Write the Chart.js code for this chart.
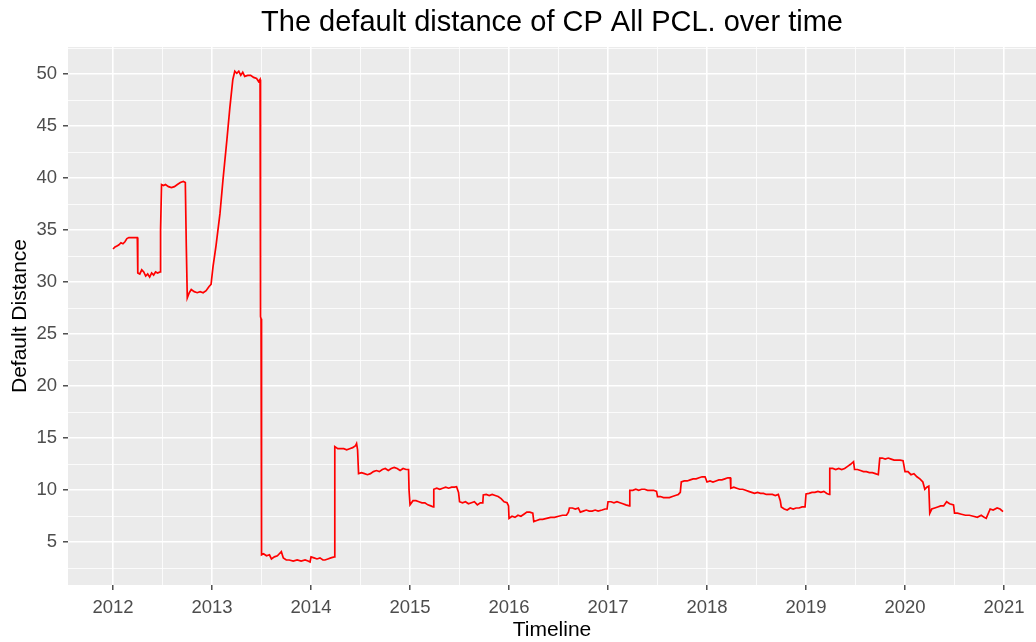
<!DOCTYPE html>
<html>
<head>
<meta charset="utf-8">
<title>The default distance of CP All PCL. over time</title>
<script src="https://cdn.jsdelivr.net/npm/chart.js@4.4.0/dist/chart.umd.min.js"></script>
<style>
  html, body { margin: 0; padding: 0; background: #fff; }
  canvas { display: block; }
</style>
</head>
<body>
<canvas id="chart" width="1036" height="642"></canvas>
<script>
// decimal years
const timeline = [
  2012.00, 2012.02, 2012.04, 2012.06, 2012.08, 2012.10, 2012.12, 2012.14, 2012.16, 2012.20, 2012.245,
  2012.25, 2012.27, 2012.29, 2012.31, 2012.33, 2012.35, 2012.37, 2012.39, 2012.41, 2012.43, 2012.45, 2012.475,
  2012.48, 2012.49, 2012.51, 2012.53, 2012.56, 2012.59, 2012.62, 2012.65, 2012.68, 2012.71, 2012.73,
  2012.74, 2012.75, 2012.77, 2012.79, 2012.82, 2012.85, 2012.88, 2012.91, 2012.94, 2012.97, 2012.99,
  2013.01, 2013.04, 2013.08, 2013.11, 2013.15, 2013.18, 2013.21, 2013.23, 2013.25, 2013.27,
  2013.29, 2013.31, 2013.33, 2013.36, 2013.39, 2013.42, 2013.45, 2013.47, 2013.485,
  2013.49, 2013.495, 2013.50, 2013.52, 2013.55, 2013.58, 2013.60, 2013.63, 2013.66, 2013.68, 2013.70, 2013.72,
  2013.75, 2013.78, 2013.82, 2013.86, 2013.90, 2013.94, 2013.97, 2013.99,
  2014.00, 2014.03, 2014.06, 2014.09, 2014.12, 2014.14, 2014.17, 2014.20, 2014.235,
  2014.24, 2014.27, 2014.30, 2014.33, 2014.36, 2014.39, 2014.42, 2014.45, 2014.46, 2014.47,
  2014.48, 2014.51, 2014.54, 2014.57, 2014.60, 2014.63, 2014.66, 2014.69, 2014.72, 2014.75,
  2014.78, 2014.81, 2014.84, 2014.87, 2014.90, 2014.93, 2014.96, 2014.985,
  2014.99, 2015.00, 2015.03, 2015.06, 2015.09, 2015.12, 2015.15, 2015.18, 2015.21, 2015.235,
  2015.24, 2015.27, 2015.30, 2015.33, 2015.36, 2015.39, 2015.42, 2015.45, 2015.47, 2015.49,
  2015.50, 2015.53, 2015.56, 2015.59, 2015.62, 2015.65, 2015.68, 2015.71, 2015.735,
  2015.74, 2015.77, 2015.80, 2015.83, 2015.86, 2015.89, 2015.92, 2015.95, 2015.98, 2015.995,
  2016.00, 2016.03, 2016.06, 2016.09, 2016.12, 2016.15, 2016.18, 2016.21, 2016.24,
  2016.25, 2016.28, 2016.31, 2016.34, 2016.38, 2016.42, 2016.46, 2016.50, 2016.54, 2016.58, 2016.60,
  2016.61, 2016.64, 2016.67, 2016.70, 2016.72, 2016.75, 2016.78, 2016.81, 2016.84, 2016.87, 2016.90, 2016.94, 2016.97, 2016.99,
  2017.00, 2017.03, 2017.06, 2017.09, 2017.12, 2017.15, 2017.18, 2017.215,
  2017.22, 2017.25, 2017.28, 2017.31, 2017.34, 2017.37, 2017.40, 2017.43, 2017.46, 2017.49,
  2017.50, 2017.53, 2017.56, 2017.59, 2017.62, 2017.65, 2017.68, 2017.71, 2017.73,
  2017.74, 2017.77, 2017.80, 2017.83, 2017.86, 2017.89, 2017.92, 2017.95, 2017.98,
  2018.00, 2018.03, 2018.06, 2018.09, 2018.12, 2018.15, 2018.18, 2018.21, 2018.235,
  2018.24, 2018.27, 2018.30, 2018.33, 2018.36, 2018.39, 2018.42, 2018.45, 2018.48,
  2018.51, 2018.54, 2018.57, 2018.60, 2018.63, 2018.66, 2018.69, 2018.72, 2018.74,
  2018.75, 2018.78, 2018.81, 2018.84, 2018.87, 2018.90, 2018.93, 2018.96, 2018.99,
  2019.00, 2019.03, 2019.06, 2019.09, 2019.12, 2019.15, 2019.18, 2019.21, 2019.235,
  2019.24, 2019.27, 2019.30, 2019.33, 2019.36, 2019.39, 2019.42, 2019.45, 2019.48,
  2019.49, 2019.52, 2019.55, 2019.58, 2019.61, 2019.64, 2019.67, 2019.70, 2019.73,
  2019.745, 2019.77, 2019.80, 2019.83, 2019.86, 2019.89, 2019.92, 2019.95, 2019.98,
  2020.00, 2020.03, 2020.06, 2020.09, 2020.12, 2020.15, 2020.18, 2020.20, 2020.22, 2020.24,
  2020.25, 2020.27, 2020.30, 2020.33, 2020.36, 2020.39, 2020.42, 2020.45, 2020.49,
  2020.50, 2020.53, 2020.57, 2020.61, 2020.65, 2020.69, 2020.73, 2020.77, 2020.80, 2020.82,
  2020.86, 2020.89, 2020.93, 2020.96, 2020.99
];

const defaultDistance = [
  33.2, 33.4, 33.5, 33.6, 33.8, 33.7, 33.9, 34.2, 34.3, 34.3, 34.3,
  30.9, 30.8, 31.2, 31.0, 30.6, 30.8, 30.5, 30.9, 30.7, 31.0, 30.9, 31.0,
  35.0, 39.4, 39.3, 39.4, 39.2, 39.1, 39.2, 39.4, 39.6, 39.7, 39.6,
  33.5, 28.5, 29.0, 29.3, 29.1, 29.0, 29.1, 29.0, 29.2, 29.6, 29.8,
  31.5, 33.5, 36.6, 39.8, 43.7, 46.8, 49.5, 50.3, 50.1, 50.3,
  49.9, 50.2, 49.8, 49.9, 49.9, 49.7, 49.6, 49.3, 49.5,
  26.7, 26.5, 3.8, 3.9, 3.7, 3.8, 3.4, 3.6, 3.7, 3.9, 4.1, 3.5,
  3.3, 3.3, 3.2, 3.3, 3.2, 3.3, 3.2, 3.1,
  3.6, 3.5, 3.4, 3.5, 3.3, 3.3, 3.4, 3.5, 3.6,
  14.2, 14.0, 14.0, 14.0, 13.9, 14.0, 14.1, 14.3, 14.5, 13.9,
  11.6, 11.7, 11.6, 11.5, 11.6, 11.8, 11.9, 11.8, 12.0, 12.1,
  11.9, 12.1, 12.2, 12.1, 11.9, 12.1, 12.0, 12.0,
  10.0, 8.6, 9.0, 9.0, 8.9, 8.8, 8.8, 8.6, 8.5, 8.4,
  10.1, 10.2, 10.1, 10.2, 10.3, 10.2, 10.3, 10.3, 10.35, 9.8,
  8.9, 8.8, 8.9, 8.7, 8.8, 8.9, 8.6, 8.8, 8.8,
  9.55, 9.6, 9.5, 9.6, 9.5, 9.4, 9.2, 8.9, 8.8, 8.5,
  7.3, 7.5, 7.4, 7.6, 7.5, 7.7, 7.9, 7.9, 7.8,
  7.0, 7.1, 7.2, 7.2, 7.3, 7.4, 7.4, 7.5, 7.6, 7.6, 7.9,
  8.3, 8.3, 8.2, 8.3, 7.9, 8.0, 8.1, 8.0, 8.0, 8.1, 8.0, 8.1, 8.2, 8.2,
  8.9, 8.9, 8.8, 8.9, 8.8, 8.7, 8.6, 8.5,
  10.0, 10.0, 10.1, 10.0, 10.1, 10.1, 10.0, 10.0, 10.0, 9.9,
  9.4, 9.4, 9.3, 9.3, 9.3, 9.4, 9.5, 9.6, 9.8,
  10.8, 10.9, 10.9, 11.0, 11.1, 11.1, 11.2, 11.3, 11.3,
  10.8, 10.9, 10.8, 10.9, 11.0, 11.0, 11.1, 11.2, 11.2,
  10.2, 10.3, 10.2, 10.1, 10.1, 10.0, 9.9, 9.8, 9.7,
  9.8, 9.7, 9.7, 9.6, 9.6, 9.6, 9.5, 9.6, 9.0,
  8.4, 8.2, 8.1, 8.3, 8.2, 8.3, 8.3, 8.4, 8.4,
  9.65, 9.7, 9.8, 9.8, 9.9, 9.8, 9.9, 9.7, 9.6,
  12.1, 12.1, 12.0, 12.1, 12.0, 12.1, 12.3, 12.5, 12.75,
  12.0, 12.0, 11.9, 11.8, 11.8, 11.7, 11.7, 11.6, 11.5,
  13.1, 13.1, 13.0, 13.1, 13.0, 12.9, 12.9, 12.9, 12.85,
  11.8, 11.8, 11.5, 11.6, 11.3, 11.1, 10.8, 10.1, 10.3, 10.4,
  7.8, 8.2, 8.3, 8.4, 8.5, 8.5, 8.9, 8.7, 8.6,
  7.8, 7.8, 7.7, 7.6, 7.6, 7.5, 7.4, 7.6, 7.4, 7.3,
  8.2, 8.1, 8.3, 8.2, 7.95
];

const yearTicks = [2012, 2013, 2014, 2015, 2016, 2017, 2018, 2019, 2020, 2021];
const distanceTicks = [5, 10, 15, 20, 25, 30, 35, 40, 45, 50];

if (timeline.length !== defaultDistance.length) {
  console.warn('length mismatch', timeline.length, defaultDistance.length);
}

const X_MIN = 2011.545, X_MAX = 2021.323;
const Y_MIN = 0.894, Y_MAX = 52.625;

// major + minor (half step) grid positions, ggplot style
const xGrid = [];
yearTicks.forEach(y => { xGrid.push(y); if (y + 0.5 < X_MAX) xGrid.push(y + 0.5); });
if (yearTicks[0] - 0.5 > X_MIN) xGrid.unshift(yearTicks[0] - 0.5);
const yGrid = [];
distanceTicks.forEach(d => { if (d - 2.5 > Y_MIN) yGrid.push(d - 2.5); yGrid.push(d); });
if (distanceTicks[distanceTicks.length - 1] + 2.5 < Y_MAX) yGrid.push(distanceTicks[distanceTicks.length - 1] + 2.5);

const isMajorX = v => yearTicks.includes(v);
const isMajorY = v => distanceTicks.includes(v);

const FONT = "'Liberation Sans', Arial, sans-serif";

const panelBackground = {
  id: 'panelBackground',
  beforeDraw(chart) {
    const { ctx, chartArea: a } = chart;
    ctx.save();
    ctx.fillStyle = '#FFFFFF';
    ctx.fillRect(0, 0, chart.width, chart.height);
    ctx.fillStyle = '#EBEBEB';
    ctx.fillRect(a.left, a.top, a.right - a.left, a.bottom - a.top);
    ctx.restore();
  }
};

new Chart(document.getElementById('chart').getContext('2d'), {
  type: 'line',
  data: {
    datasets: [{
      label: 'Default Distance',
      data: timeline.map((t, i) => ({ x: t, y: defaultDistance[i] })),
      borderColor: '#FF0000',
      borderWidth: 1.7,
      pointRadius: 0,
      tension: 0,
      fill: false
    }]
  },
  options: {
    responsive: false,
    animation: false,
    devicePixelRatio: 1,
    layout: { padding: 0 },
    plugins: {
      legend: { display: false },
      tooltip: { enabled: false },
      title: {
        display: true,
        text: 'The default distance of CP All PCL. over time',
        fullSize: false,
        color: '#000000',
        font: { family: FONT, size: 29, weight: 'normal', lineHeight: 1.2 },
        padding: { top: 6, bottom: 6.2 }
      }
    },
    scales: {
      x: {
        type: 'linear',
        min: X_MIN,
        max: X_MAX,
        afterBuildTicks: scale => { scale.ticks = xGrid.map(v => ({ value: v })); },
        afterFit: scale => { scale.height = 57; },
        border: { display: false },
        grid: {
          color: '#FFFFFF',
          lineWidth: ctx => isMajorX(ctx.tick.value) ? 1.6 : 0.8,
          drawTicks: true,
          tickLength: 5,
          tickWidth: 1.3,
          tickColor: ctx => isMajorX(ctx.tick.value) ? '#333333' : 'rgba(0,0,0,0)'
        },
        ticks: {
          autoSkip: false,
          maxRotation: 0,
          padding: 7,
          color: '#4D4D4D',
          font: { family: FONT, size: 18.5 },
          callback: v => isMajorX(v) ? String(v) : ''
        },
        title: {
          display: true,
          text: 'Timeline',
          color: '#000000',
          font: { family: FONT, size: 21, lineHeight: 1.2 },
          padding: { top: 0, bottom: -1 }
        }
      },
      y: {
        type: 'linear',
        min: Y_MIN,
        max: Y_MAX,
        afterBuildTicks: scale => { scale.ticks = yGrid.map(v => ({ value: v })); },
        afterFit: scale => { scale.width = 68; },
        border: { display: false },
        grid: {
          color: '#FFFFFF',
          lineWidth: ctx => isMajorY(ctx.tick.value) ? 1.6 : 0.8,
          drawTicks: true,
          tickLength: 5,
          tickWidth: 1.3,
          tickColor: ctx => isMajorY(ctx.tick.value) ? '#333333' : 'rgba(0,0,0,0)'
        },
        ticks: {
          autoSkip: false,
          padding: 6,
          color: '#4D4D4D',
          font: { family: FONT, size: 18.5 },
          callback: v => isMajorY(v) ? String(v) : ''
        },
        title: {
          display: true,
          text: 'Default Distance',
          color: '#000000',
          font: { family: FONT, size: 21, lineHeight: 1.2 },
          padding: { top: 8, bottom: 0 }
        }
      }
    }
  },
  plugins: [panelBackground]
});
</script>
</body>
</html>
